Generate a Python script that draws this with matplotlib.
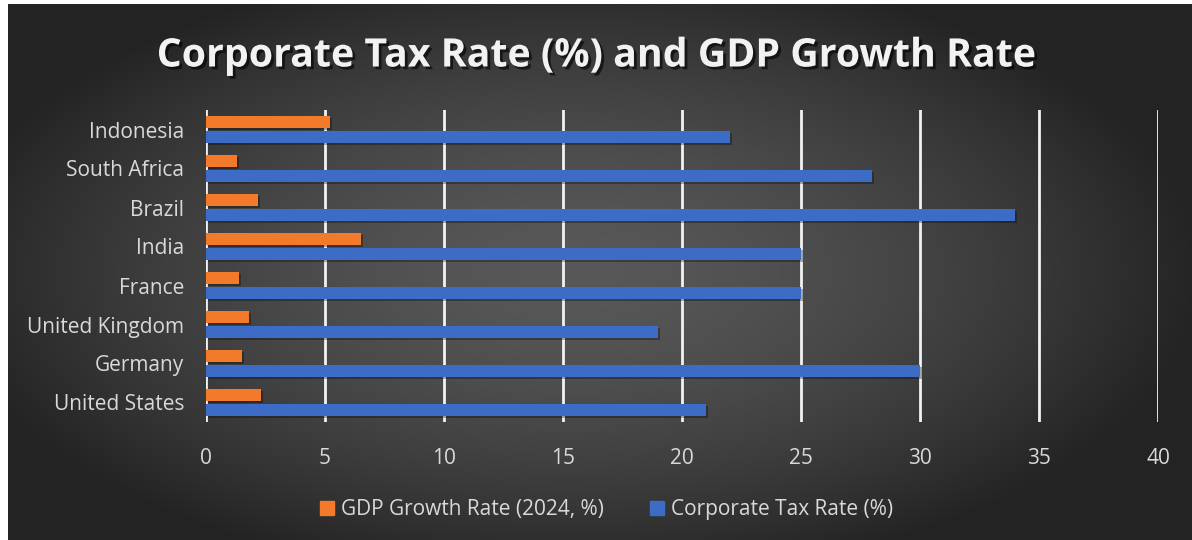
import numpy as np
import matplotlib
matplotlib.use("Agg")
import matplotlib.pyplot as plt
import matplotlib.patheffects as pe
from matplotlib.patches import Patch

# data, bottom to top as drawn
countries = ["United States", "Germany", "United Kingdom", "France",
             "India", "Brazil", "South Africa", "Indonesia"]
gdp_growth = [2.3, 1.5, 1.8, 1.4, 6.5, 2.2, 1.3, 5.2]
tax_rate = [21, 30, 19, 25, 25, 34, 28, 22]
x_ticks = [0, 5, 10, 15, 20, 25, 30, 35, 40]

plt.rcParams['font.family'] = ['Open Sans', 'DejaVu Sans']

W, H = 1192, 540
fig = plt.figure(figsize=(W / 100, H / 100), dpi=100)
fig.patch.set_facecolor('white')

# radial dark gradient background
bg = fig.add_axes([8 / W, 0, 1 - 8 / W, 1 - 4 / H])
yy, xx = np.mgrid[-1:1:300j, -1:1:600j]
r = np.sqrt(((xx + 0.05) / 1.05) ** 2 + (yy / 1.15) ** 2)
r = np.clip(r, 0, 1.2)
shade = 0.345 - 0.2 * r ** 1.6
shade = np.clip(shade, 0.14, 1)
bg.imshow(np.dstack([shade] * 3), aspect='auto', extent=[0, 1, 0, 1],
          interpolation='bilinear')
bg.set_axis_off()

ax = fig.add_axes([206 / W, 1 - 422 / H, (1158 - 206) / W, (422 - 110) / H])
ax.patch.set_alpha(0)

y = np.arange(len(countries))
h = 0.31
off = 0.19
shadow = [pe.SimplePatchShadow(offset=(1.5, -1.5), shadow_rgbFace='black', alpha=0.3),
          pe.Normal()]
b1 = ax.barh(y + off, gdp_growth, height=h, color='#F27A2A', zorder=3,
             label='GDP Growth Rate (2024, %)')
b2 = ax.barh(y - off, tax_rate, height=h, color='#3D6CC6', zorder=3,
             label='Corporate Tax Rate (%)')
for b in list(b1) + list(b2):
    b.set_path_effects(shadow)

ax.set_xlim(0, 40)
ax.set_ylim(-0.5, len(countries) - 0.5)
ax.set_xticks(x_ticks)
ax.set_yticks(y)
ax.set_yticklabels(countries)
for xv in x_ticks:
    ax.axvline(xv, color='#F2F2F2', lw=2, zorder=1)
for s in ax.spines.values():
    s.set_visible(False)
ax.tick_params(axis='both', length=0, colors='#D9D9D9', labelsize=15)
ax.tick_params(axis='x', pad=19)
ax.tick_params(axis='y', pad=15.5)

title = fig.text(0.5, 1 - 56 / H, "Corporate Tax Rate (%) and GDP Growth Rate",
                 ha='center', va='center', color='#F2F2F2', fontsize=28.3,
                 fontweight='bold')
title.set_path_effects([pe.withSimplePatchShadow(offset=(2, -2), shadow_rgbFace='black',
                                                 alpha=0.6)])

handles = [Patch(color='#F27A2A'), Patch(color='#3D6CC6')]
leg = fig.legend(handles, ['GDP Growth Rate (2024, %)', 'Corporate Tax Rate (%)'],
                 loc='center', bbox_to_anchor=(0.509, 1 - 510 / H), ncol=2,
                 frameon=False, fontsize=15, handlelength=0.65, handleheight=0.65,
                 handletextpad=0.35, columnspacing=2.2)
for t in leg.get_texts():
    t.set_color('#D9D9D9')

fig.savefig('out.png', dpi=100, facecolor='white')
